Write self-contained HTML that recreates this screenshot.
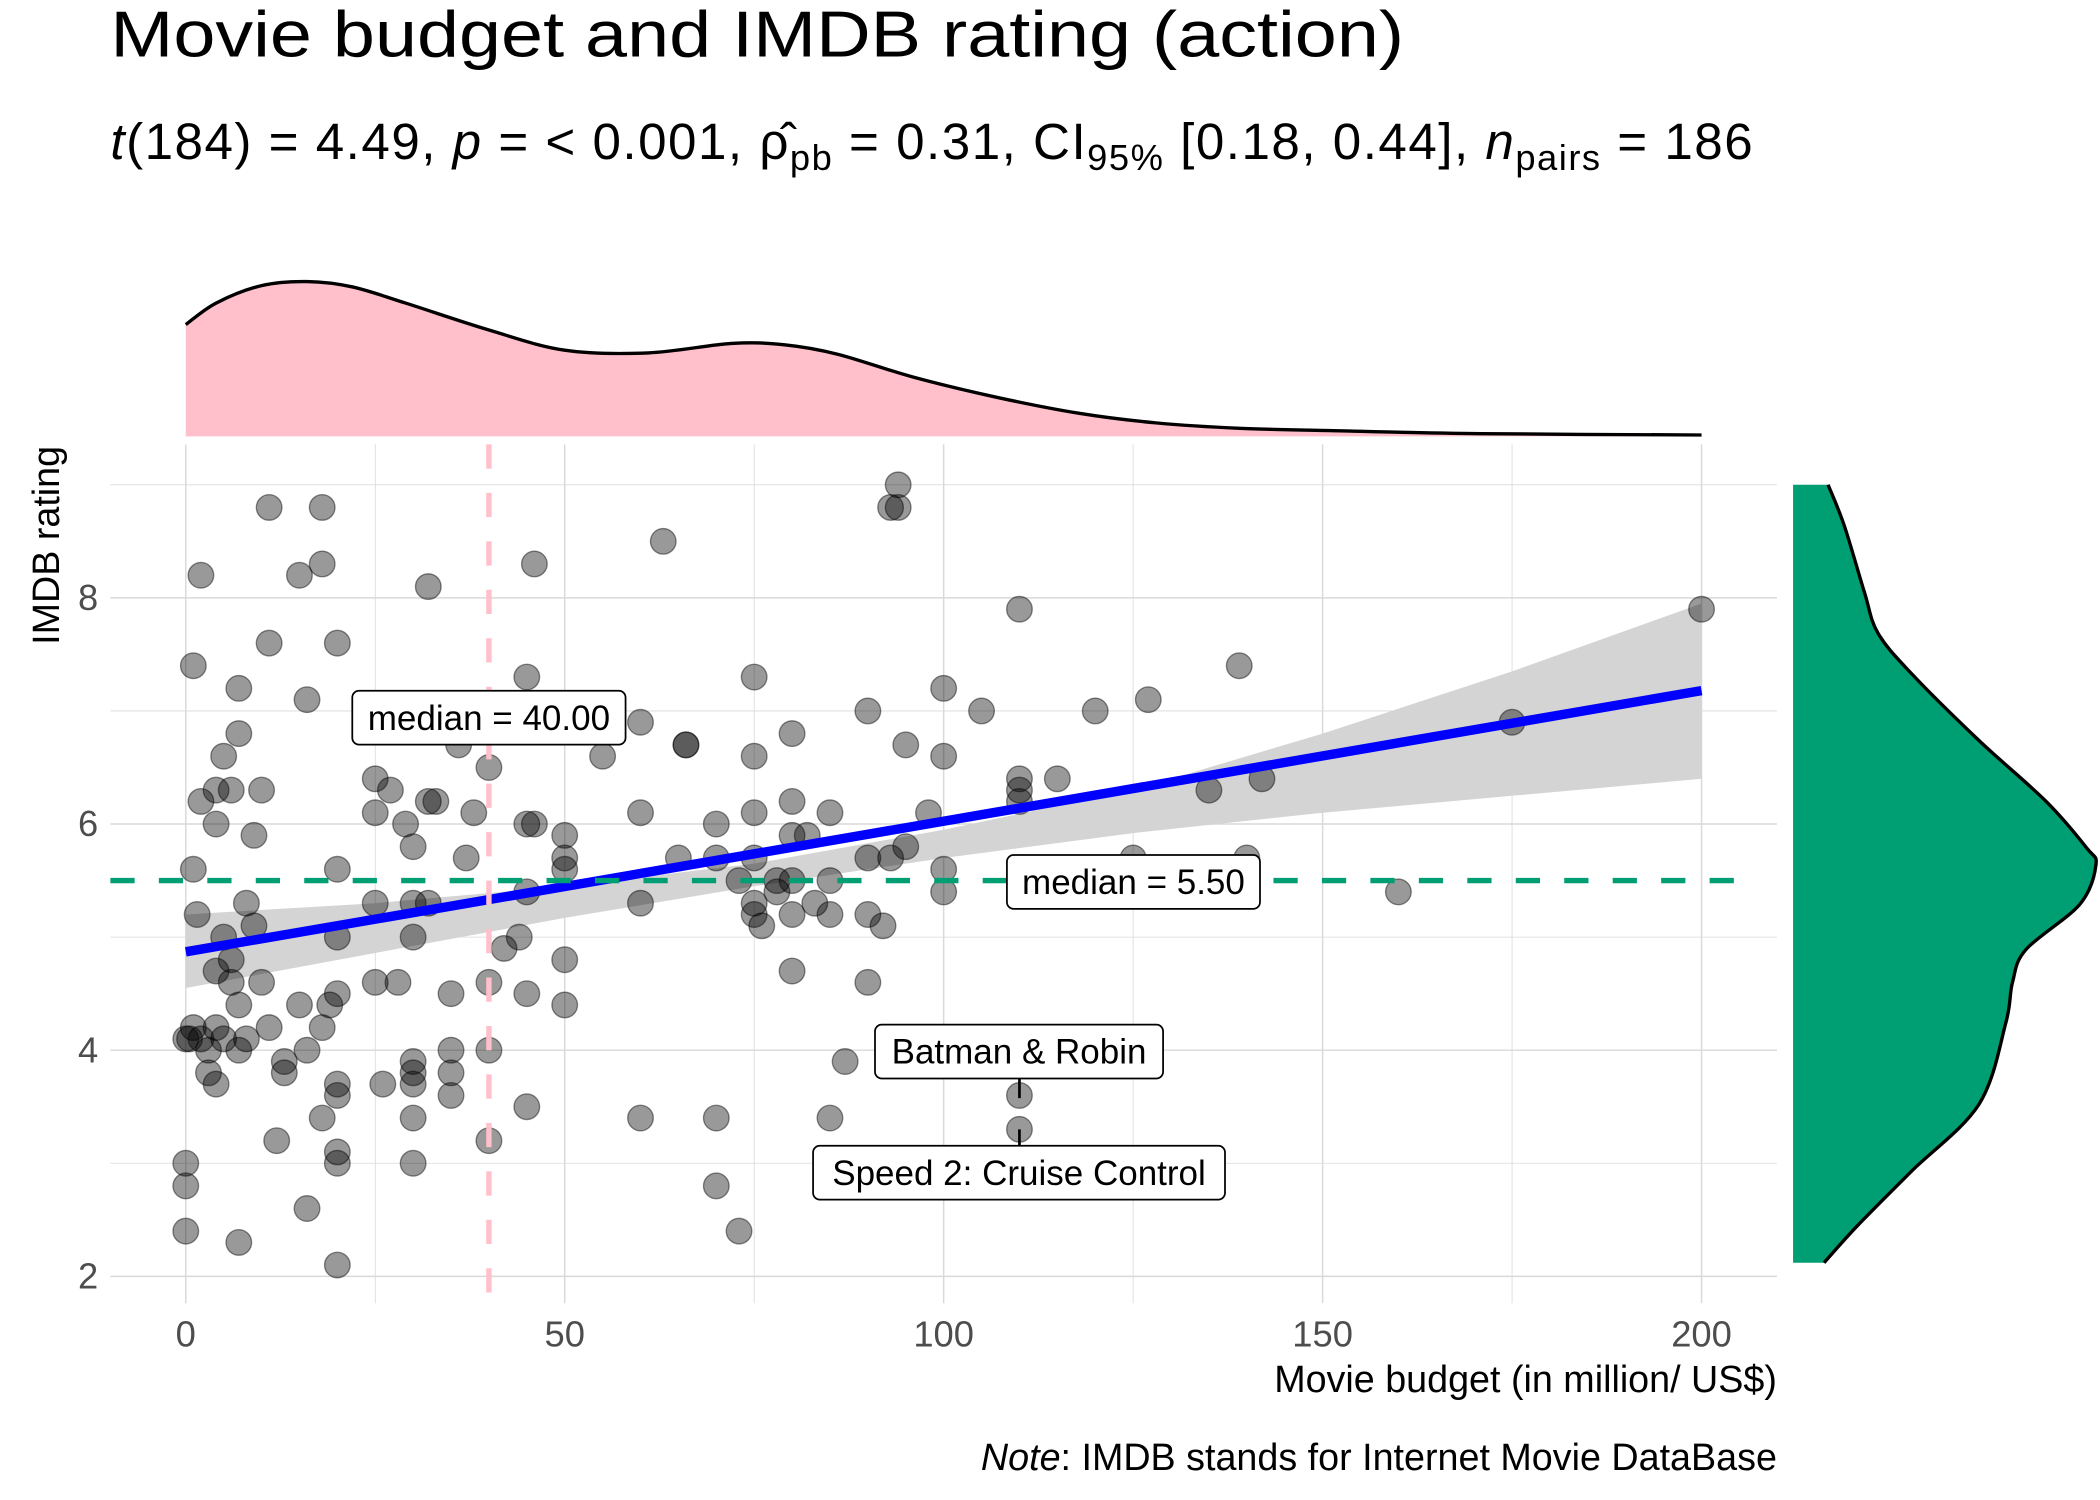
<!DOCTYPE html>
<html><head><meta charset="utf-8"><style>
html,body{margin:0;padding:0;background:#fff}
svg{display:block}
text{font-family:"Liberation Sans",sans-serif}
</style></head><body>
<svg id="chart" width="2100" height="1500" viewBox="0 0 1560 1114" xmlns="http://www.w3.org/2000/svg">
<rect width="1560" height="1114" fill="#fff"/>
<text x="82" y="42" font-size="48" fill="#000" textLength="961" lengthAdjust="spacingAndGlyphs">Movie budget and IMDB rating (action)</text>
<text x="82" y="118" font-size="38" fill="#000" textLength="1220" lengthAdjust="spacing"><tspan font-style="italic">t</tspan>(184) = 4.49, <tspan font-style="italic">p</tspan> = &lt; 0.001, <tspan>ρ̂</tspan><tspan font-size="27" dy="8">pb</tspan><tspan dy="-8"> = 0.31, CI</tspan><tspan font-size="27" dy="8">95%</tspan><tspan dy="-8"> [0.18, 0.44], </tspan><tspan font-style="italic">n</tspan><tspan font-size="27" dy="8">pairs</tspan><tspan dy="-8"> = 186</tspan></text>
<g id="grid"></g>
<g id="band"></g>
<g id="points"></g>
<g id="lines"></g>
<g id="dens"></g>
<g id="labels"></g>
<text x="1320" y="1034" font-size="28" text-anchor="end" fill="#000">Movie budget (in million/ US$)</text>
<text transform="translate(44,405) rotate(-90)" font-size="28" text-anchor="middle" fill="#000">IMDB rating</text>
<text x="1320" y="1092" font-size="28" text-anchor="end" fill="#000"><tspan font-style="italic">Note</tspan>: IMDB stands for Internet Movie DataBase</text>
</svg>
<script>
const xTicks=[0,50,100,150,200];
const xTickLabels=["0","50","100","150","200"];
const yTicks=[2,4,6,8];
const yTickLabels=["2","4","6","8"];
const budgets=[0,0,0,0,0.5,1,2,1,1,1.5,2,2,3,3,4,4,4,4,4,5,5,5,6,6,6,7,7,7,7,7,8,8,9,9,10,10,11,11,11,12,13,13,15,15,16,16,16,18,18,18,18,19,20,20,20,20,20,20,20,20,20,25,25,25,25,26,27,28,29,30,30,30,30,30,30,30,30,32,32,32,33,35,35,35,35,36,37,38,40,40,40,40,42,44,45,45,45,45,45,46,46,50,50,50,50,50,55,60,60,60,60,63,65,66,66,70,70,70,70,73,73,75,75,75,75,75,75,76,78,78,80,80,80,80,80,80,82,83,85,85,85,85,87,90,90,90,90,92,93,93,94,94,95,95,98,100,100,100,100,105,110,110,110,110,110,110,115,120,125,127,135,139,140,142,160,175,200];
const ratings=[2.4,2.8,3.0,4.1,4.1,7.4,8.2,5.6,4.2,5.2,4.1,6.2,3.8,4.0,4.2,3.7,6.0,6.3,4.7,5.0,6.6,4.1,4.8,4.6,6.3,6.8,7.2,4.4,4.0,2.3,5.3,4.1,5.1,5.9,6.3,4.6,4.2,8.8,7.6,3.2,3.9,3.8,4.4,8.2,7.1,4.0,2.6,8.8,3.4,4.2,8.3,4.4,7.6,5.6,5.0,4.5,3.7,3.6,3.1,3.0,2.1,6.4,6.1,5.3,4.6,3.7,6.3,4.6,6.0,5.8,5.3,5.0,3.9,3.8,3.7,3.4,3.0,8.1,6.2,5.3,6.2,4.5,4.0,3.8,3.6,6.7,5.7,6.1,6.5,4.6,4.0,3.2,4.9,5.0,7.3,6.0,5.4,4.5,3.5,8.3,6.0,5.9,5.7,5.6,4.8,4.4,6.6,6.9,6.1,5.3,3.4,8.5,5.7,6.7,6.7,6.0,5.7,3.4,2.8,2.4,5.5,7.3,6.6,6.1,5.7,5.3,5.2,5.1,5.4,5.5,6.8,6.2,5.9,5.5,5.2,4.7,5.9,5.3,6.1,5.5,5.2,3.4,3.9,7.0,5.7,5.2,4.6,5.1,8.8,5.7,9.0,8.8,6.7,5.8,6.1,7.2,6.6,5.6,5.4,7.0,7.9,6.4,6.3,6.2,3.6,3.3,6.4,7.0,5.7,7.1,6.3,7.4,5.7,6.4,5.4,6.9,7.9];
const fitX=[0,200];
const fitY=[4.87,7.18];
const bandX=[0,25,50,75,100,125,150,175,200];
const bandLo=[4.55,4.86,5.17,5.45,5.7,5.92,6.1,6.25,6.4];
const bandHi=[5.2,5.3,5.45,5.65,5.95,6.3,6.8,7.35,7.95];
const medianX=40, medianY=5.5;
const densXGrid=[0,4,10,16,22,29,40,50,61,72,79,86,96,107,118,128,139,153,171,200];
const densXVal=[83,99,112,115,111,99,79,64,62,69,68,61,44,29,17,10,6,4,2,1];
const densYGrid=[9,8.64,8.05,7.69,7.33,6.74,6.2,5.79,5.64,5.29,4.89,4.6,4.24,3.52,2.93,2.45,2.12];
const densYVal=[26,38,53,63,88,138,188,218,225,213,173,163,158,138,88,48,23];
const labelTexts=["Batman & Robin","Speed 2: Cruise Control"];
const labelPts=[[110,3.6],[110,3.3]];

const NS="http://www.w3.org/2000/svg";
const X=v=>138+(v/200)*1126;
const Y=v=>948-(v-2)*84;
function mk(tag,attrs,parent){const e=document.createElementNS(NS,tag);for(const k in attrs)e.setAttribute(k,attrs[k]);parent.appendChild(e);return e;}
function smooth(pts){
  let d='M'+pts[0][0]+','+pts[0][1];
  for(let i=0;i<pts.length-1;i++){
    const p0=pts[i-1]||pts[i],p1=pts[i],p2=pts[i+1],p3=pts[i+2]||p2;
    const c1=[p1[0]+(p2[0]-p0[0])/6,p1[1]+(p2[1]-p0[1])/6];
    const c2=[p2[0]-(p3[0]-p1[0])/6,p2[1]-(p3[1]-p1[1])/6];
    d+='C'+c1.join(',')+' '+c2.join(',')+' '+p2.join(',');
  }
  return d;
}
const grid=document.getElementById('grid');
for(let v=0;v<=200;v+=25){
  const l=mk('line',{x1:X(v),x2:X(v),y1:330,y2:968,stroke:'#d9d9d9','stroke-width':v%50===0?1.1:0.6},grid);
  
  
}
for(let v=2;v<=9;v++){
  const l=mk('line',{x1:82,x2:1320,y1:Y(v),y2:Y(v),stroke:'#d9d9d9','stroke-width':v%2===0?1.1:0.6},grid);
  
  
}
xTicks.forEach((v,i)=>{const t=mk('text',{x:X(v),y:1000,'font-size':27,'text-anchor':'middle',fill:'#4d4d4d'},grid);t.textContent=xTickLabels[i];
  
  });
yTicks.forEach((v,i)=>{const t=mk('text',{x:73,y:Y(v)+9,'font-size':27,'text-anchor':'end',fill:'#4d4d4d'},grid);t.textContent=yTickLabels[i];
  
  });
let d='M'+bandX.map((x,i)=>X(x)+','+Y(bandHi[i])).join('L');
for(let i=bandX.length-1;i>=0;i--)d+='L'+X(bandX[i])+','+Y(bandLo[i]);
const band=mk('path',{d:d+'Z',fill:'#d4d4d4'},document.getElementById('band'));


const pg=document.getElementById('points');
budgets.forEach((b,i)=>{const c=mk('circle',{cx:X(b),cy:Y(ratings[i]),r:9.5,fill:'rgba(0,0,0,0.4)',stroke:'rgba(0,0,0,0.45)','stroke-width':1},pg);
  
  });
const lg=document.getElementById('lines');
const fl=mk('line',{x1:X(fitX[0]),y1:Y(fitY[0]),x2:X(fitX[1]),y2:Y(fitY[1]),stroke:'#0000ff','stroke-width':7},lg);


const mx=mk('line',{x1:X(medianX),x2:X(medianX),y1:330,y2:968,stroke:'#ffc0cb','stroke-width':4,'stroke-dasharray':'18 18'},lg);


const my=mk('line',{x1:82,x2:1302,y1:Y(medianY),y2:Y(medianY),stroke:'#009E73','stroke-width':4,'stroke-dasharray':'18 18'},lg);


const dg=document.getElementById('dens');
const tPts=densXGrid.map((x,i)=>[X(x),324-densXVal[i]]);
const tCurve=smooth(tPts);
const tf=mk('path',{d:tCurve+'L'+X(densXGrid[densXGrid.length-1])+',324L'+X(densXGrid[0])+',324Z',fill:'#ffc0cb'},dg);


const to=mk('path',{d:tCurve,fill:'none',stroke:'#000','stroke-width':2.5,'stroke-linejoin':'round'},dg);


const rPts=densYGrid.map((y,i)=>[1332+densYVal[i],Y(y)]);
const rCurve=smooth(rPts);
const rf=mk('path',{d:rCurve+'L1332,'+Y(densYGrid[densYGrid.length-1])+'L1332,'+Y(densYGrid[0])+'Z',fill:'#009E73'},dg);


const ro=mk('path',{d:rCurve,fill:'none',stroke:'#000','stroke-width':2.5,'stroke-linejoin':'round'},dg);


const lbg=document.getElementById('labels');
function box(txt,cx,cy,w,name){
  const r=mk('rect',{x:cx-w/2,y:cy-20,width:w,height:40,rx:5,fill:'#fff',stroke:'#000','stroke-width':1.3},lbg);
  
  
  const t=mk('text',{x:cx,y:cy+9,'font-size':26,'text-anchor':'middle',fill:'#000'},lbg);t.textContent=txt;
  
  
}
box('median = 40.00',X(medianX),533,203,'median-x-label');
box('median = 5.50',842,Y(medianY)+1,188,'median-y-label');
const s1=mk('line',{x1:X(labelPts[0][0]),x2:X(labelPts[0][0]),y1:801,y2:Y(labelPts[0][1])+2,stroke:'#000','stroke-width':2},lbg);


const s2=mk('line',{x1:X(labelPts[1][0]),x2:X(labelPts[1][0]),y1:Y(labelPts[1][1]),y2:851,stroke:'#000','stroke-width':2},lbg);


box(labelTexts[0],757,781,214,'batman-robin-label');
box(labelTexts[1],757,871,306,'speed2-label');
</script>
</body></html>
